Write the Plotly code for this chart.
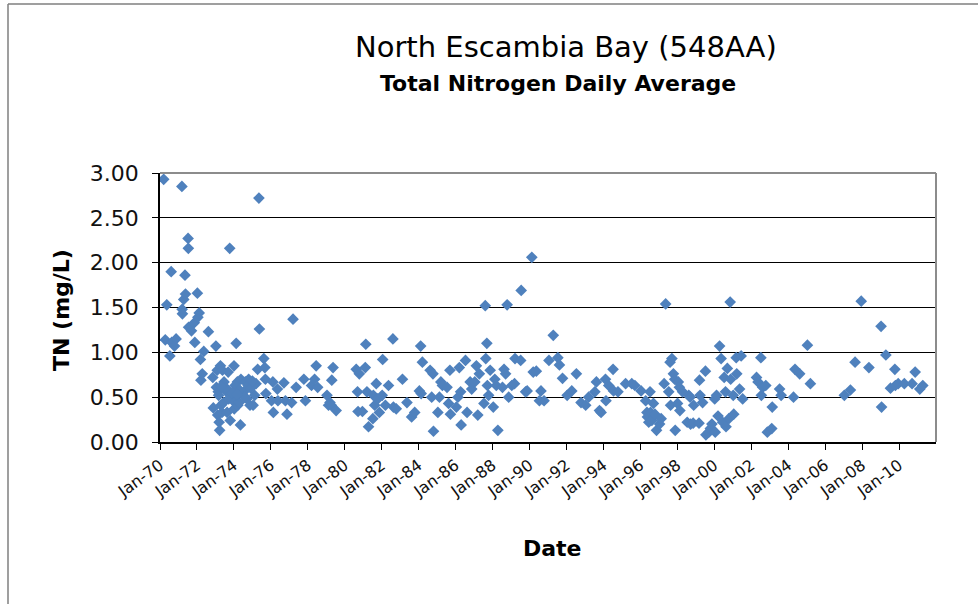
import plotly.graph_objects as go

# ---- data ----
dates_1970s = [
    "1970-03-15", "1970-04-15", "1970-05-15", "1970-07-15", "1970-08-10", "1970-08-20", "1970-10-15", "1970-11-15",
    "1971-03-10", "1971-03-15", "1971-03-20", "1971-04-15", "1971-05-10", "1971-05-20", "1971-07-10", "1971-07-15",
    "1971-07-20", "1971-09-15", "1971-11-10", "1971-11-20", "1972-01-10", "1972-01-20", "1972-02-15", "1972-03-10",
    "1972-03-20", "1972-04-15", "1972-05-15", "1972-08-15", "1972-11-10", "1972-11-20", "1973-01-10", "1973-01-20",
    "1973-02-05", "1973-02-15", "1973-02-25", "1973-03-05", "1973-03-15", "1973-03-25", "1973-04-10", "1973-04-20",
    "1973-05-10", "1973-05-20", "1973-06-10", "1973-06-20", "1973-08-10", "1973-08-20", "1973-09-10", "1973-09-20",
    "1973-10-10", "1973-10-20", "1974-01-03", "1974-01-08", "1974-01-13", "1974-01-18", "1974-01-23", "1974-02-15",
    "1974-03-10", "1974-03-20", "1974-04-15", "1974-05-10", "1974-05-20", "1974-07-15", "1974-08-15", "1974-09-15",
    "1974-10-10", "1974-10-20", "1974-11-15", "1975-01-15", "1975-02-15", "1975-03-15", "1975-04-15", "1975-05-10",
    "1975-05-20", "1975-08-15", "1975-09-05", "1975-09-15", "1975-09-25", "1976-01-15", "1976-02-10", "1976-02-20",
    "1976-05-10", "1976-05-20", "1976-09-15", "1976-10-15", "1976-11-15", "1977-02-15", "1977-03-15", "1977-05-15",
    "1977-10-15", "1977-11-15", "1978-03-15", "1978-06-15", "1978-05-15", "1978-07-15", "1979-01-15", "1979-02-15",
    "1979-03-15", "1979-04-10", "1979-04-20", "1979-05-15", "1979-07-15",
    "1973-08-01", "1974-04-25", "1974-08-01", "1973-12-01", "1974-12-01", "1975-01-01", "1973-04-25", "1974-03-01",
]
tn_1970s = [
    2.93, 1.14, 1.53, 0.96, 1.90, 1.11, 1.07, 1.15,
    2.85, 1.48, 1.43, 1.59, 1.86, 1.65, 2.27, 2.16,
    1.28, 1.24, 1.33, 1.11, 1.66, 1.39, 1.44, 0.92,
    0.69, 0.76, 1.01, 1.23, 0.72, 0.38, 1.07, 0.61,
    0.80, 0.30, 0.56, 0.52, 0.22, 0.13, 0.85, 0.41,
    0.33, 0.80, 0.44, 0.67, 0.56, 0.33, 0.78, 0.48,
    2.16, 0.24, 0.85, 0.37, 0.52, 0.44, 0.63, 1.10,
    0.67, 0.41, 0.44, 0.19, 0.70, 0.56, 0.67, 0.48,
    0.63, 0.70, 0.41, 0.41, 0.52, 0.65, 0.81, 2.72,
    1.26, 0.93, 0.83, 0.70, 0.54, 0.46, 0.67, 0.33,
    0.59, 0.46, 0.66, 0.46, 0.31, 0.44, 1.37, 0.61,
    0.70, 0.46, 0.63, 0.85, 0.70, 0.61, 0.52, 0.41,
    0.44, 0.41, 0.69, 0.83, 0.35,
    0.60, 0.58, 0.50, 0.55, 0.60, 0.68, 0.62, 0.53,
]

dates_1980s = [
    "1980-08-15", "1980-09-10", "1980-09-20", "1980-10-15", "1980-12-15", "1981-02-10", "1981-02-20", "1981-03-15",
    "1981-04-15", "1981-07-10", "1981-07-20", "1981-08-15", "1981-09-15", "1981-10-15", "1981-11-15", "1982-01-10",
    "1982-01-20", "1982-03-15", "1982-05-15", "1982-08-10", "1982-08-20", "1982-10-15", "1983-02-15", "1983-05-15",
    "1983-08-15", "1983-10-15", "1984-01-15", "1984-02-10", "1984-02-20", "1984-03-15", "1984-08-15", "1984-09-15",
    "1984-10-10", "1984-10-20", "1985-01-15", "1985-02-15", "1985-03-15", "1985-04-15", "1985-07-15", "1985-08-15",
    "1985-09-10", "1985-09-20", "1986-01-15", "1986-02-15", "1986-03-15", "1986-04-10", "1986-04-20", "1986-07-15",
    "1986-08-15", "1986-10-15", "1986-11-15", "1987-01-15", "1987-02-15", "1987-03-15", "1987-04-15", "1987-07-15",
    "1987-08-10", "1987-08-20", "1987-09-10", "1987-09-20", "1987-10-15", "1987-11-15", "1988-01-15", "1988-02-15",
    "1988-03-15", "1988-04-15", "1988-07-15", "1988-08-15", "1988-09-15", "1988-10-15", "1988-11-15", "1989-01-15",
    "1989-03-10", "1989-03-20", "1989-07-10", "1989-07-20", "1989-10-15", "1989-11-15",
]
tn_1980s = [
    0.81, 0.56, 0.34, 0.76, 0.34, 0.83, 1.09, 0.56,
    0.17, 0.26, 0.52, 0.41, 0.65, 0.48, 0.33, 0.52,
    0.92, 0.41, 0.63, 1.15, 0.39, 0.37, 0.70, 0.44,
    0.28, 0.33, 0.57, 1.07, 0.54, 0.89, 0.80, 0.50,
    0.76, 0.12, 0.33, 0.50, 0.67, 0.63, 0.61, 0.43,
    0.80, 0.31, 0.39, 0.50, 0.83, 0.56, 0.19, 0.91,
    0.33, 0.67, 0.59, 0.67, 0.85, 0.30, 0.76, 0.43,
    1.52, 0.93, 1.10, 0.63, 0.52, 0.80, 0.39, 0.70,
    0.63, 0.13, 0.61, 0.81, 0.76, 1.53, 0.50, 0.63,
    0.65, 0.93, 0.91, 1.69, 0.56, 0.57,
]

dates_1990s = [
    "1990-02-15", "1990-03-15", "1990-05-15", "1990-07-15", "1990-08-15", "1990-10-15", "1991-01-20", "1991-04-15",
    "1991-07-15", "1991-08-15", "1991-10-15", "1992-01-15", "1992-04-15", "1992-07-15", "1992-10-15", "1993-01-15",
    "1993-03-15", "1993-07-15", "1993-08-15", "1993-10-15", "1993-11-15", "1994-02-10", "1994-02-20", "1994-04-15",
    "1994-07-10", "1994-07-20", "1994-10-15", "1995-03-15", "1995-07-15", "1995-09-15", "1996-01-15", "1996-04-15",
    "1996-05-10", "1996-05-20", "1996-06-15", "1996-07-10", "1996-07-20", "1996-08-15", "1996-09-15", "1996-10-15",
    "1996-11-15", "1997-01-15", "1997-02-15", "1997-04-15", "1997-05-15", "1997-07-15", "1997-08-10", "1997-08-20",
    "1997-09-15", "1997-10-15", "1997-11-10", "1997-11-20", "1998-01-05", "1998-01-20", "1998-02-10", "1998-02-20",
    "1998-04-15", "1998-07-15", "1998-08-15", "1998-09-10", "1998-09-20", "1998-11-10", "1998-11-20", "1999-03-05",
    "1999-03-15", "1999-03-25", "1999-05-15", "1999-07-10", "1999-07-20", "1999-09-15", "1999-10-15", "1999-11-15",
]
tn_1990s = [
    2.06, 0.78, 0.79, 0.46, 0.57, 0.46, 0.91, 1.19,
    0.94, 0.86, 0.71, 0.52, 0.57, 0.76, 0.44, 0.41,
    0.50, 0.56, 0.67, 0.35, 0.33, 0.70, 0.46, 0.63,
    0.81, 0.57, 0.56, 0.65, 0.65, 0.63, 0.57, 0.46,
    0.33, 0.28, 0.22, 0.56, 0.33, 0.24, 0.43, 0.31,
    0.13, 0.20, 0.26, 0.65, 1.54, 0.56, 0.89, 0.41,
    0.93, 0.76, 0.70, 0.13, 0.43, 0.67, 0.61, 0.35,
    0.56, 0.22, 0.52, 0.50, 0.20, 0.21, 0.41, 0.21,
    0.69, 0.52, 0.44, 0.79, 0.08, 0.11, 0.15, 0.20,
]

dates_2000s = [
    "2000-01-10", "2000-01-20", "2000-02-15", "2000-03-15", "2000-04-15", "2000-05-15", "2000-06-15", "2000-07-15",
    "2000-08-10", "2000-08-20", "2000-09-15", "2000-10-15", "2000-11-10", "2000-11-20", "2001-01-10", "2001-01-20",
    "2001-03-10", "2001-03-20", "2001-05-15", "2001-06-15", "2001-07-15", "2002-04-15", "2002-05-15", "2002-07-10",
    "2002-07-20", "2002-08-15", "2002-10-15", "2002-11-15", "2003-02-10", "2003-02-20", "2003-07-15", "2003-08-15",
    "2004-04-15", "2004-05-15", "2004-08-15", "2005-01-15", "2005-03-15", "2007-01-15", "2007-05-15", "2007-08-15",
    "2007-12-15", "2008-05-15", "2009-01-10", "2009-01-20", "2009-04-15", "2009-07-15", "2009-10-10", "2009-10-20",
    "2009-12-15", "2010-04-15", "2010-09-15", "2010-11-15", "2011-02-15", "2011-04-15",
]
tn_2000s = [
    0.48, 0.11, 0.52, 0.29, 1.07, 0.93, 0.22, 0.72,
    0.56, 0.17, 0.82, 0.26, 1.56, 0.70, 0.52, 0.31,
    0.94, 0.76, 0.59, 0.96, 0.48, 0.72, 0.67, 0.94,
    0.52, 0.61, 0.63, 0.11, 0.15, 0.39, 0.59, 0.52,
    0.50, 0.81, 0.76, 1.08, 0.65, 0.52, 0.58, 0.89,
    1.57, 0.83, 1.29, 0.39, 0.97, 0.60, 0.81, 0.63,
    0.65, 0.65, 0.65, 0.78, 0.59, 0.63,
]

tick_dates = ["1970-01-01", "1972-01-01", "1974-01-01", "1976-01-01", "1978-01-01", "1980-01-01",
              "1982-01-01", "1984-01-01", "1986-01-01", "1988-01-01", "1990-01-01", "1992-01-01",
              "1994-01-01", "1996-01-01", "1998-01-01", "2000-01-01", "2002-01-01", "2004-01-01",
              "2006-01-01", "2008-01-01", "2010-01-01"]
tick_labels = ["Jan-70", "Jan-72", "Jan-74", "Jan-76", "Jan-78", "Jan-80", "Jan-82", "Jan-84", "Jan-86",
               "Jan-88", "Jan-90", "Jan-92", "Jan-94", "Jan-96", "Jan-98", "Jan-00", "Jan-02", "Jan-04",
               "Jan-06", "Jan-08", "Jan-10"]

dates = dates_1970s + dates_1980s + dates_1990s + dates_2000s
tn = tn_1970s + tn_1980s + tn_1990s + tn_2000s

# ---- layout geometry (target pixel positions in the 978x604 window) ----
W, H = 978, 604
L, R, T, B = 160, 936, 173, 442
FONT = "DejaVu Sans"


def px(x):
    return (x - L) / (R - L)


def py(y):
    return (B - y) / (B - T)


fig = go.Figure()
fig.add_trace(go.Scatter(
    x=dates, y=tn, mode="markers",
    marker=dict(symbol="diamond", size=9, color="#4F81BD", line=dict(width=0)),
    showlegend=False, hoverinfo="x+y",
))

fig.update_layout(
    width=W, height=H,
    margin=dict(l=L, r=W - R, t=T, b=H - B, pad=0),
    paper_bgcolor="white", plot_bgcolor="white",
    font=dict(family=FONT, color="black"),
    showlegend=False,
    xaxis=dict(
        type="date", range=["1970-01-01", "2012-01-01"],
        tickmode="array", tickvals=tick_dates, ticktext=tick_labels,
        tickangle=-36, tickfont=dict(size=16, family=FONT, color="#111"),
        ticks="outside", ticklen=6, tickcolor="black", tickwidth=1,
        showline=True, linecolor="black", linewidth=1.5,
        showgrid=False, zeroline=False,
    ),
    yaxis=dict(
        range=[0, 3], tickmode="linear", tick0=0, dtick=0.5, tickformat=".2f",
        tickfont=dict(size=22, family=FONT, color="#111"),
        ticks="outside", ticklen=6, tickcolor="black", tickwidth=1,
        ticklabelstandoff=9,
        showline=True, linecolor="black", linewidth=1.5,
        showgrid=True, gridcolor="black", gridwidth=1.2, zeroline=False,
    ),
    shapes=[
        # plot-area frame (top and right, gray)
        dict(type="line", xref="paper", yref="paper", x0=0, x1=1, y0=1, y1=1,
             line=dict(color="#8c8c8c", width=2)),
        dict(type="line", xref="paper", yref="paper", x0=1, x1=1, y0=0, y1=1,
             line=dict(color="#8c8c8c", width=2)),
        # chart-area border (left and top, gray)
        dict(type="line", xref="paper", yref="paper", x0=px(8), x1=px(8), y0=py(4), y1=py(620),
             line=dict(color="#7f7f7f", width=1.5)),
        dict(type="line", xref="paper", yref="paper", x0=px(8), x1=px(990), y0=py(4), y1=py(4),
             line=dict(color="#7f7f7f", width=1.5)),
    ],
    annotations=[
        dict(text="North Escambia Bay (548AA)", xref="paper", yref="paper",
             x=px(566), y=py(47), xanchor="center", yanchor="middle", showarrow=False,
             font=dict(size=29, family=FONT, color="black")),
        dict(text="<b>Total Nitrogen Daily Average</b>", xref="paper", yref="paper",
             x=px(558), y=py(83), xanchor="center", yanchor="middle", showarrow=False,
             font=dict(size=22, family=FONT, color="black")),
        dict(text="<b>Date</b>", xref="paper", yref="paper",
             x=px(552), y=py(548), xanchor="center", yanchor="middle", showarrow=False,
             font=dict(size=22, family=FONT, color="black")),
        dict(text="<b>TN (mg/L)</b>", xref="paper", yref="paper", textangle=-90,
             x=px(61), y=py(310), xanchor="center", yanchor="middle", showarrow=False,
             font=dict(size=22, family=FONT, color="black")),
    ],
)

fig.write_html("out.html", config={"displayModeBar": False},
               post_script="document.body.style.margin='0px';document.body.style.overflow='hidden';")
